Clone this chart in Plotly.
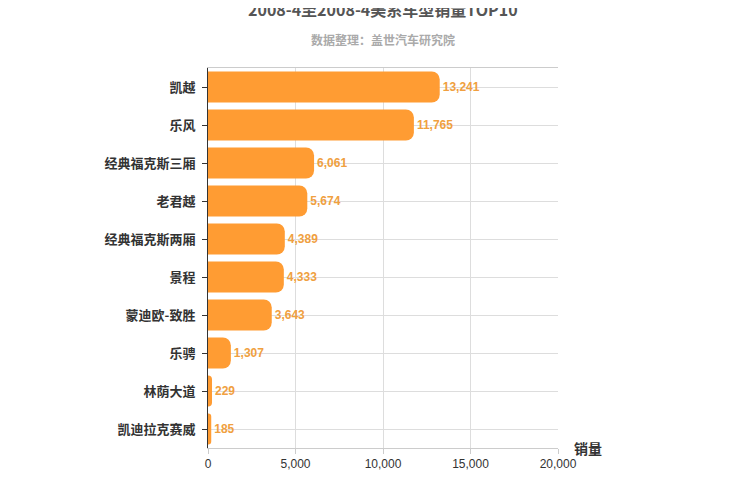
import plotly.graph_objects as go

categories = ["凯越", "乐风", "经典福克斯三厢", "老君越", "经典福克斯两厢", "景程", "蒙迪欧-致胜", "乐骋", "林荫大道", "凯迪拉克赛威"]
values = [13241, 11765, 6061, 5674, 4389, 4333, 3643, 1307, 229, 185]
x_ticks = [0, 5000, 10000, 15000, 20000]

fig = go.Figure(go.Bar(
    y=categories, x=values, orientation="h",
    marker=dict(color="#FF9C33", line=dict(width=0)),
    text=[f"<b>{v:,}</b>" for v in values], textposition="outside",
    textfont=dict(color="#F0A040", size=12, family="Arial, Liberation Sans"),
    cliponaxis=False, width=0.82,
))
fig.update_layout(
    width=750, height=500, plot_bgcolor="white", paper_bgcolor="white",
    margin=dict(l=200, r=200, t=60, b=60, autoexpand=False),
    barcornerradius=8,
    font=dict(family="Noto Sans CJK SC", color="#333"),
    showlegend=False,
)
fig.add_annotation(text="<b>2008-4至2008-4美系车型销量TOP10</b>", xref="paper", yref="paper", x=0.5, y=1.155,
                   xanchor="center", yanchor="middle", showarrow=False, font=dict(size=16, color="#555"))
fig.add_annotation(text="<b>数据整理：盖世汽车研究院</b>", xref="paper", yref="paper", x=0.5, y=1.075,
                   xanchor="center", yanchor="middle", showarrow=False, font=dict(size=12, color="#aaa"))
fig.update_xaxes(range=[0, 20000], tickvals=x_ticks, tickformat=",", showgrid=True, gridcolor="#ddd",
                 zeroline=False, showline=True, linecolor="#ccc", ticks="outside", tickcolor="#ccc",
                 tickfont=dict(size=12, color="#333", family="Arial, Liberation Sans"), mirror=True, automargin=False)
fig.update_yaxes(autorange="reversed", showgrid=True, gridcolor="#ddd", showline=True, linecolor="#333",
                 ticks="outside", tickcolor="#333", tickfont=dict(size=13, color="#333"), ticklabelstandoff=4,
                 automargin=False, tickprefix="<b>", ticksuffix="</b>")
fig.add_annotation(text="<b>销量</b>", xref="paper", yref="paper", x=1.04, y=0.0, xanchor="left", yanchor="middle",
                   showarrow=False, font=dict(size=14, color="#333"))
fig.write_html("out.html")
